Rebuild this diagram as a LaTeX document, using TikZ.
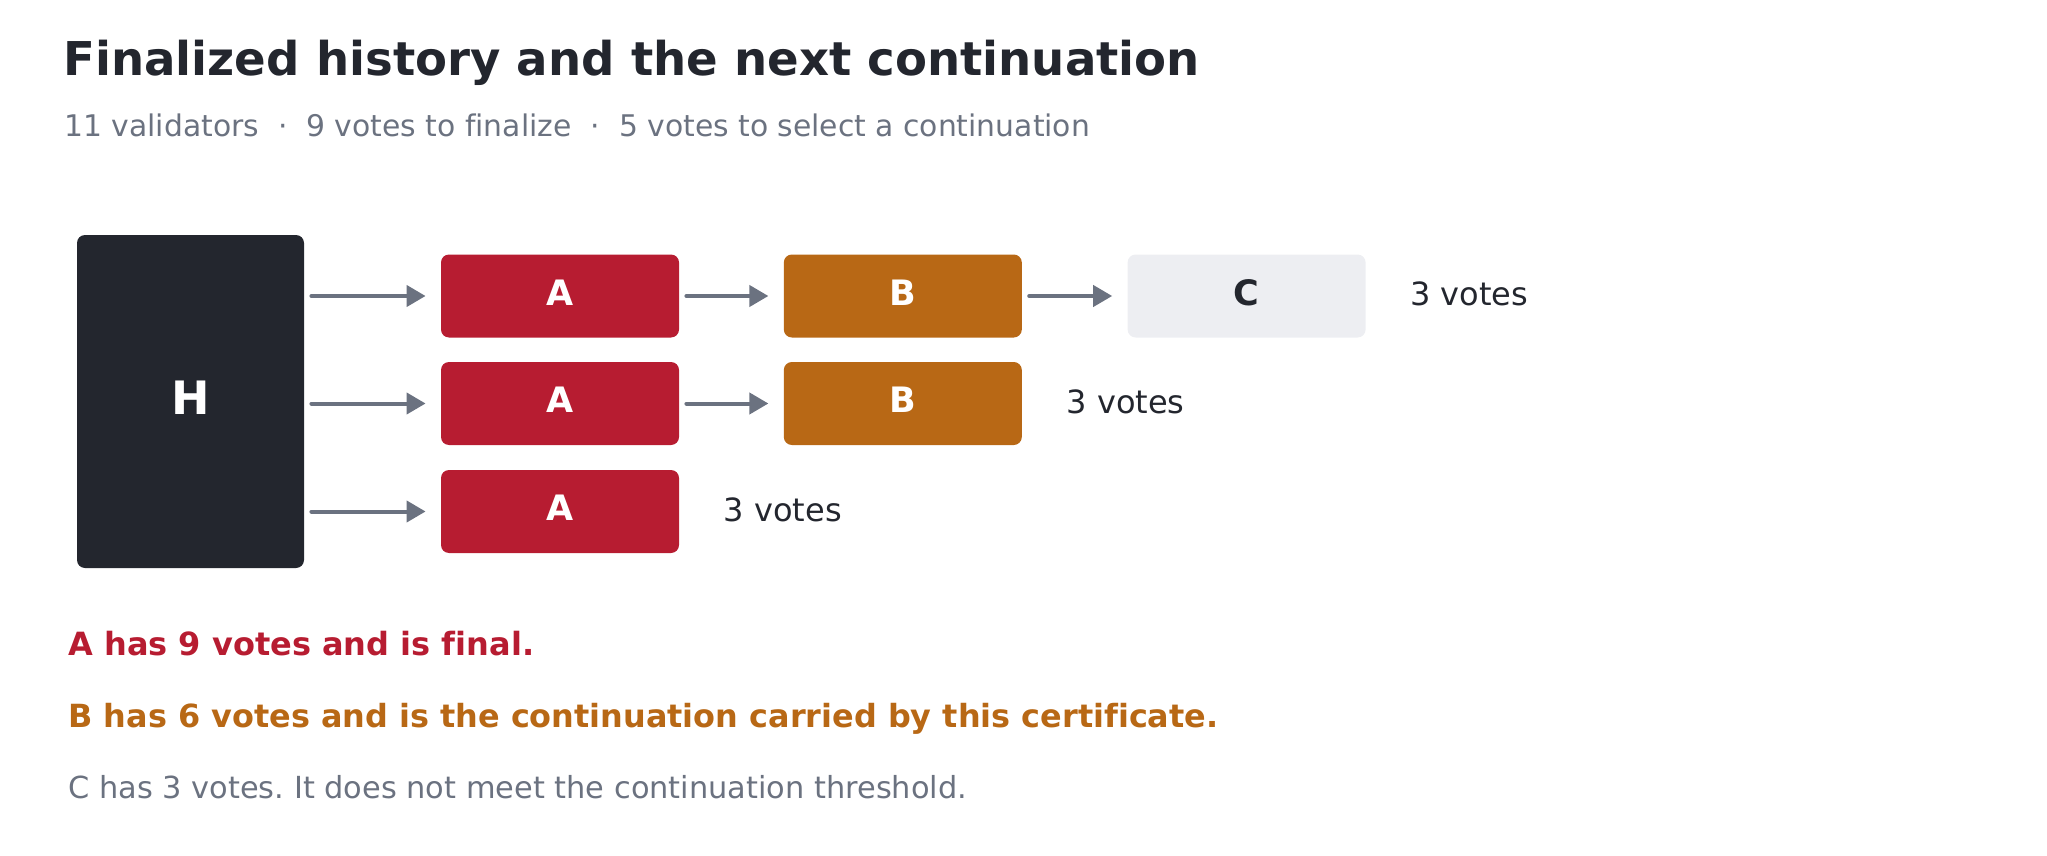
\documentclass[tikz,border=0pt]{standalone}
\usepackage{fontspec}
\setmainfont{DejaVu Sans}[Ligatures=NoCommon]
\usetikzlibrary{arrows.meta,positioning}
\definecolor{ink}{HTML}{23262E}
\definecolor{slate}{HTML}{6B7280}
\definecolor{crimson}{HTML}{B71C31}
\definecolor{amber}{HTML}{B86815}
\definecolor{mist}{HTML}{EDEEF2}
\frenchspacing

\begin{document}
\begin{tikzpicture}[x=0.5pt,y=-0.5pt,
  block/.style={rounded corners=4pt,inner sep=0pt,minimum width=119pt,minimum height=41.5pt,
    text depth=3.5pt,font=\fontsize{17.5}{20}\selectfont\bfseries,text=white},
  flow/.style={draw=slate,line width=2pt,line cap=round,-{Triangle[length=9.5pt,width=10.5pt]},
    shorten <=3.5pt,shorten >=7.5pt},
  votes/.style={inner sep=0pt,text=ink,yshift=1pt,font=\fontsize{16}{19}\selectfont},
  note/.style={anchor=base west,inner sep=0pt,font=\fontsize{16}{19}\selectfont}]
  \useasboundingbox (0,0) rectangle (2047,856);
  % heading
  \node[anchor=base west,inner sep=0pt,text=ink,font=\fontsize{23.3}{28}\selectfont\bfseries] (title) at (63,76)
    {Finalized history and the next continuation};
  \node[anchor=base west,inner sep=0pt,text=slate,font=\fontsize{14.9}{18}\selectfont] (sub) at (64,137)
    {11 validators~~·~~9 votes to finalize~~·~~5 votes to select a continuation};
  % finalized history
  \node[block,fill=ink,minimum width=113.5pt,minimum height=166.5pt,text depth=4pt,
    font=\fontsize{23}{28}\selectfont\bfseries] (H) at (190.5,401.5) {H};
  % the three chains out of H
  \foreach \r/\y in {1/296,2/403.5,3/511.5}{
    \node[block,fill=crimson] (A\r) at (560,\y) {A};
    \draw[flow] (H.east |- A\r.west) -- (A\r.west);
  }
  \foreach \r in {1,2}{
    \node[block,fill=amber,right=52pt of A\r] (B\r) {B};
    \draw[flow] (A\r) -- (B\r);
  }
  \node[block,fill=mist,text=ink,right=52.5pt of B1] (C1) {C};
  \draw[flow] (B1) -- (C1);
  % vote counts at the tips
  \node[votes,right=22pt of C1] (v1) {3 votes};
  \node[votes,right=22pt of B2] (v2) {3 votes};
  \node[votes,right=22pt of A3] (v3) {3 votes};
  % notes below
  \node[note,text=crimson,font=\fontsize{16}{19}\selectfont\bfseries] (nA) at (68,655) {A has 9 votes and is final.};
  \node[note,text=amber,font=\fontsize{15.95}{19}\selectfont\bfseries] (nB) at (68,727) {B has 6 votes and is the continuation carried by this certificate.};
  \node[note,text=slate,font=\fontsize{15.2}{18}\selectfont] (nC) at (68,798) {C has 3 votes. It does not meet the continuation threshold.};
\end{tikzpicture}
\end{document}
